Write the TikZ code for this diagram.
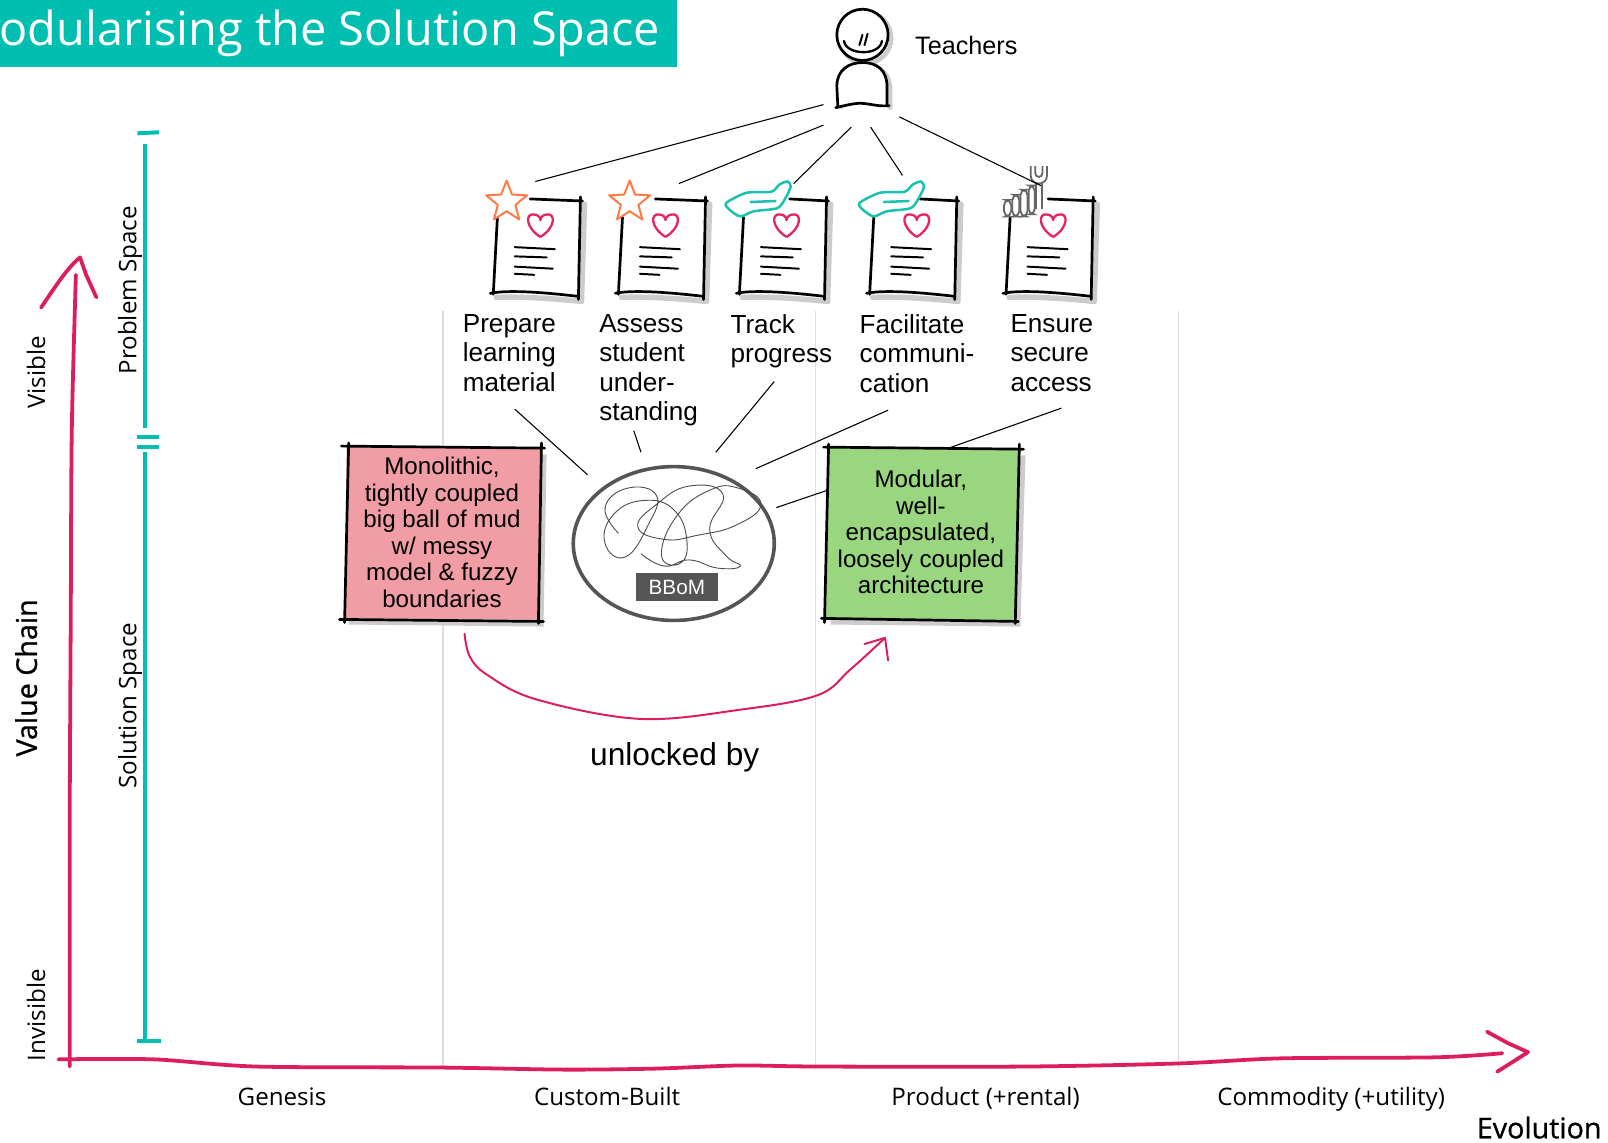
\documentclass[tikz,border=0pt]{standalone}
\usepackage{fontspec}
\setmainfont{Liberation Sans}
\newfontfamily\mapfont{Open Sans}
\newfontfamily\mapfontheavy[FakeBold=0.8]{Open Sans}
\usetikzlibrary{calc}

\definecolor{mapteal}{HTML}{00BFB0}
\definecolor{axisred}{HTML}{DC1E5F}
\definecolor{heartred}{HTML}{E3266A}
\definecolor{starorange}{HTML}{FF7A45}
\definecolor{handteal}{HTML}{1CC2B0}
\definecolor{monopink}{HTML}{F19DA6}
\definecolor{modgreen}{HTML}{9AD580}
\definecolor{bbomgrey}{HTML}{555555}
\definecolor{colgrey}{HTML}{DDDDDD}
\definecolor{shadowgrey}{HTML}{CCCCCC}

\tikzset{
  axisline/.style={draw=axisred, line width=2.1pt, line cap=round, line join=round},
  bracket/.style={draw=mapteal, line width=2.2pt},
  colline/.style={draw=colgrey, line width=0.6pt},
  sketchedge/.style={draw=black, line width=1.5pt, line cap=round},
  sketchshadow/.style={draw=shadowgrey, line width=3pt, line cap=round},
  link/.style={draw=black, line width=0.6pt},
  maplabel/.style={font=\mapfont\fontsize{13.4}{16}\selectfont, inner sep=0pt},
  axistitle/.style={font=\mapfontheavy\fontsize{15.9}{18}\selectfont, inner sep=0pt},
  needlabel/.style={font=\fontsize{14.5}{16.4}\selectfont, align=left, anchor=north west, inner sep=0pt},
  boxtext/.style={font=\fontsize{13.4}{14.7}\selectfont, align=center, inner sep=0pt},
}

% a hand-drawn document card; #1,#2 top-left corner, #3 start of the top edge
\newcommand\doccard[3]{%
  \begin{scope}[shift={(#1,#2)}]
    \draw[sketchshadow] (92,9) -- (89,104);
    \draw[sketchshadow] (6,100) .. controls (30,99) and (60,101) .. (89,104);
    \draw[sketchedge] (#3,4) -- (90,6);
    \draw[sketchedge] (88,2) -- (86,102);
    \draw[sketchedge] (7,22) -- (3,97);
    \draw[sketchedge] (0,96) .. controls (20,92) and (60,96) .. (86,99);
    \draw[line width=1.1pt, line cap=round] (24,51) -- (63,53) (24,60) -- (55,61) (24,70) -- (61,72) (24,77) -- (43,78);
    \draw[heartred, line width=1.3pt, line join=round, shift={(49,29)}, scale=1.1]
      (0,11) .. controls (-14,2) and (-13,-10) .. (-6,-9) .. controls (-2,-9) and (0,-6) .. (0,-4)
      .. controls (0,-6) and (2,-9) .. (6,-9) .. controls (13,-10) and (14,2) .. (0,11);
  \end{scope}}

\newcommand\starico[2]{%
  \draw[starorange, line width=1.1pt, line join=round, fill=white, shift={(#1,#2)}]
    (-90:21) -- (-54:9) -- (-18:21) -- (18:9) -- (54:21) -- (90:9)
    -- (126:21) -- (162:9) -- (198:21) -- (234:9) -- cycle;}

\newcommand\handico[2]{%
  \begin{scope}[shift={(#1,#2)}]
    \draw[handteal, line width=1.4pt, fill=white] plot[smooth cycle, tension=0.45] coordinates
      {(-10,8) (10,-2) (34,-3) (42,-10) (50,-13) (53,-8) (48,3) (40,13) (17,16) (4,21) (-6,15)};
    \draw[handteal, line width=1.4pt, line cap=round] (14,7) -- (38,6);
  \end{scope}}

\newcommand\wrenchico[2]{%
  \begin{scope}[shift={(#1,#2)}, black!60, line width=1pt]
    \draw[rounded corners=3] (1,5) rectangle (8,21);
    \draw[rounded corners=3] (9,0) rectangle (16,21);
    \draw[rounded corners=3] (17,-5) rectangle (24,21);
    \draw[rounded corners=3] (25,-9) rectangle (31,19);
    \draw (32,-12) -- (32,14) (38,-12) -- (38,14);
    \draw (27,-28) -- (27,-19) arc[start angle=180, end angle=0, radius=8] -- (43,-28);
    \draw (31.5,-28) -- (31.5,-21) arc[start angle=180, end angle=0, radius=3.5] -- (38.5,-28);
  \end{scope}}

\begin{document}
\begin{tikzpicture}[x=0.02cm, y=-0.02cm]
\useasboundingbox (0,0) rectangle (1568,1114);

% evolution stage columns
\draw[colline] (432,303) -- (432,1042);
\draw[colline] (795,303) -- (795,1042);
\draw[colline] (1149,303) -- (1149,1042);

% title banner
\fill[mapteal] (0,0) rectangle (660,65);
\begin{scope}
  \clip (0,0) rectangle (660,65);
  \node[anchor=base east, text=white, font=\mapfont\fontsize{26}{30}\selectfont, inner sep=0pt] (title) at (644,44) {Modularising the Solution Space};
\end{scope}

% axes
\draw[axisline] plot[smooth, tension=0.5] coordinates {(68,1040) (68,800) (69,600) (70,420) (74,268)};
\draw[axisline] (40,300) .. controls (55,278) and (65,262) .. (78,251) -- (84,268) -- (94,290);
\draw[axisline] plot[smooth, tension=0.5] coordinates {(57,1033) (150,1033) (250,1040) (430,1041) (550,1043) (640,1042) (720,1039) (800,1040) (1000,1040) (1149,1037) (1250,1032) (1400,1031) (1465,1027)};
\draw[axisline] (1450,1006) -- (1470,1017) -- (1490,1026) -- (1460,1045);

% problem / solution space brackets
\draw[bracket] (141,140) -- (141,417);
\draw[bracket] (134,130) -- (155,129);
\draw[bracket] (134,426) -- (155,426);
\draw[bracket] (141,441) -- (141,1013);
\draw[bracket] (134,436) -- (155,436);
\draw[bracket] (134,1015) -- (157,1015);

% axis texts
\node[axistitle, rotate=90, anchor=base] (vchain) at (36,661) {Value Chain};
\node[maplabel, rotate=90, anchor=base] (visible) at (44,363) {Visible};
\node[maplabel, rotate=90, anchor=base] (invisible) at (44,990) {Invisible};
\node[maplabel, rotate=90, anchor=base] (probspace) at (133,283) {Problem Space};
\node[maplabel, rotate=90, anchor=base] (solspace) at (133,688) {Solution Space};
\node[maplabel, anchor=base] (genesis) at (275,1078) {Genesis};
\node[maplabel, anchor=base] (custom) at (592,1078) {Custom-Built};
\node[maplabel, anchor=base] (product) at (961,1078) {Product (+rental)};
\node[maplabel, anchor=base] (commodity) at (1298,1078) {Commodity (+utility)};
\node[axistitle, anchor=base east] (evolution) at (1562,1110) {Evolution};

% teacher figure
\draw[shadowgrey, line width=2.5pt] (844,37) circle[radius=25];
\draw[shadowgrey, line width=2.5pt] (820,106) -- (819,86) .. controls (819,70) and (831,64) .. (844,64) .. controls (859,64) and (868,72) .. (868,88) -- (868,107);
\draw[line width=1.5pt, fill=white] (841,34) circle[radius=25];
\draw[line width=1.3pt, line cap=round] (823,40) .. controls (825,54) and (858,55) .. (860,40);
\draw[line width=1.1pt, line cap=round] (838,44) -- (841,34) (843,44) -- (846,33);
\draw[line width=1.5pt, line join=round, fill=white] (817,104) -- (816,84) .. controls (816,68) and (828,61) .. (841,61) .. controls (856,61) and (865,69) .. (865,85) -- (865,104);
\draw[line width=1.5pt, line cap=round] (815,105) .. controls (828,102) and (835,100) .. (843,101) .. controls (852,102) and (858,104) .. (867,103);
\coordinate (teacher) at (841,83);
\node[anchor=base west, font=\fontsize{14}{16}\selectfont, inner sep=0pt] (teachtxt) at (892,53) {Teachers};

% needs as document cards
\doccard{478}{190}{39}
\doccard{600}{190}{39}
\doccard{718}{190}{52}
\doccard{845}{190}{52}
\doccard{978}{190}{44}
\starico{494}{197}
\starico{614}{197}
\handico{718}{190}
\handico{848}{190}
\wrenchico{978}{190}
\coordinate (card1) at (522,177);
\coordinate (card2) at (662,179);
\coordinate (card3) at (774,179);
\coordinate (card4) at (880,171);
\coordinate (card5) at (1015,181);

% teacher to needs
\coordinate (tA) at (803,102);
\coordinate (tB) at (803,122);
\coordinate (tC) at (830,124);
\coordinate (tD) at (849,124);
\coordinate (tE) at (877,114);
\draw[link] (tA) -- (card1);
\draw[link] (tB) -- (card2);
\draw[link] (tC) -- (card3);
\draw[link] (tD) -- (card4);
\draw[link] (tE) -- (card5);

% need labels
\node[needlabel] (need1) at (451,306) {Prepare\\learning\\material};
\node[needlabel] (need2) at (584,306) {Assess\\student\\under-\\standing};
\node[needlabel] (need3) at (712,306) {Track\\progress};
\node[needlabel] (need4) at (838,306) {Facilitate\\communi-\\cation};
\node[needlabel] (need5) at (985,306) {Ensure\\secure\\access};

% monolith
\fill[shadowgrey] (343,442) -- (533,443) -- (530,611) -- (340,609) -- cycle;
\fill[monopink] (338,436) -- (527,437) -- (525,604) -- (336,603) -- cycle;
\draw[sketchedge] (333,435) -- (531,437);
\draw[sketchedge] (528,432) -- (525,608);
\draw[sketchedge] (331,604) -- (530,606);
\draw[sketchedge] (340,432) -- (336,607);
\node[boxtext] (mono) at (431,519) {Monolithic,\\tightly coupled\\big ball of mud\\w/ messy\\model \& fuzzy\\boundaries};

% modular architecture
\fill[shadowgrey] (812,443) -- (1000,444) -- (995,611) -- (810,609) -- cycle;
\fill[modgreen] (807,437) -- (995,438) -- (990,605) -- (805,603) -- cycle;
\draw[sketchedge] (803,436) -- (998,438);
\draw[sketchedge] (994,433) -- (990,608);
\draw[sketchedge] (801,603) -- (993,606);
\draw[sketchedge] (808,433) -- (804,607);
\node[boxtext] (modular) at (898,519) {Modular,\\well-\\encapsulated,\\loosely coupled\\architecture};

% big ball of mud
\coordinate (bbom) at (657,530);
\draw[bbomgrey, line width=2pt] (bbom) ellipse [x radius=98, y radius=75];
\draw[black!70, line width=0.5pt] plot[smooth, tension=0.8] coordinates
  {(603,520) (590,495) (612,476) (640,483) (632,512) (610,543) (590,530) (598,502) (628,488) (658,498) (670,530) (662,550) (645,541) (660,503) (692,478) (720,476) (742,492) (718,512) (680,522) (648,526) (622,514) (640,492) (672,474) (705,482) (692,516) (708,542) (722,552) (700,554) (672,546) (648,552) (625,540)};
\node[fill=bbomgrey, text=white, font=\fontsize{11.5}{13}\selectfont, minimum width=1.6cm, minimum height=0.54cm, inner sep=0pt] (bbomtag) at (660,572.5) {BBoM};

% needs to the ball of mud and the modular box
\coordinate (l1a) at (502,399); \coordinate (l1b) at (573,463);
\coordinate (l2a) at (618,420); \coordinate (l2b) at (625,441);
\coordinate (l3a) at (755,372); \coordinate (l3b) at (698,441);
\coordinate (l4a) at (866,400); \coordinate (l4b) at (737,457);
\coordinate (l5a) at (1035,398); \coordinate (l5b) at (925,437);
\coordinate (l6a) at (757,495); \coordinate (l6b) at (807,478);
\draw[link] (l1a) -- (l1b);
\draw[link] (l2a) -- (l2b);
\draw[link] (l3a) -- (l3b);
\draw[link] (l4a) -- (l4b);
\draw[link] (l5a) -- (l5b);
\draw[link] (l6a) -- (l6b);

% unlocked by
\coordinate (ustart) at (453,618);
\coordinate (uend) at (863,622);
\draw[axisred, line width=1.1pt, line cap=round] plot[smooth, tension=0.6] coordinates
  {(ustart) (458,640) (475,658) (523,682) (624,701) (722,692) (797,678) (829,653) (uend)};
\draw[axisred, line width=1.1pt, line cap=round, line join=round] (843,628) -- (uend) -- (866,644);
\node[font=\fontsize{17.6}{20}\selectfont, anchor=base, inner sep=0pt] (unlock) at (658,746) {unlocked by};

\end{tikzpicture}
\end{document}
